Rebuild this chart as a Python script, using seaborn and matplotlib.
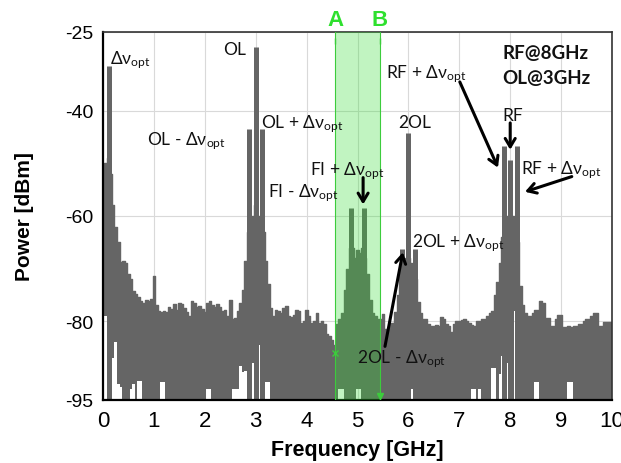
import matplotlib
matplotlib.use("Agg")
import matplotlib.pyplot as plt
import seaborn as sns
import numpy as np
import pandas as pd

# spectrum envelope, sampled every 0.05 GHz from 0 to 10 GHz
freq_step = 0.05
upper_dbm = [
    -58, -50, -49, -52, -58, -62, -65, -68.8, -68.5, -69,
    -71, -72, -74.3, -74.8, -75.5, -76.2, -76.5, -76, -76.2, -75.8,
    -71.5, -77, -78, -78.3, -78, -78.3, -77.4, -77.6, -76.8, -77.8,
    -76.5, -76.8, -77.5, -78.3, -79, -76.2, -76.5, -77.4, -77.2, -77.6,
    -78.2, -76.5, -76.2, -77, -77.4, -76.8, -77.4, -78, -77.8, -79,
    -76, -79.5, -79.4, -78, -76.5, -74, -68.5, -63, -60.5, -60,
    -58, -60, -60.5, -63, -68.5, -73, -77.5, -79, -77.8, -78,
    -78.5, -77.5, -77.2, -79, -79.3, -78.8, -77.8, -78, -80.3, -80,
    -77.8, -79, -80.3, -80, -78.5, -80.3, -80, -80.5, -82.5, -82.9,
    -83.5, -84.5, -80.5, -79.5, -78.5, -74, -70, -66, -66, -68,
    -66.5, -67, -66, -68, -71, -76, -78.5, -79, -79.5, -79.5,
    -78.7, -81.5, -81.5, -80.3, -80.3, -78.3, -75, -70, -69, -68,
    -68, -69, -70, -72, -76.4, -78.5, -79.6, -79.6, -80.5, -81,
    -81, -80.8, -81, -79.2, -79.5, -80.6, -81, -82, -80.6, -80,
    -80, -79.8, -79.6, -80, -80.3, -80.8, -81, -80, -80, -79.6,
    -79.6, -79, -78.5, -78, -75, -72.6, -69, -64, -60, -60,
    -60, -60, -61, -65, -73.4, -77, -78.5, -79.1, -79.1, -78.5,
    -77.8, -77.8, -76.2, -76.5, -79.4, -79.4, -80.9, -80.9, -79.5, -78.8,
    -78.8, -81.2, -81.2, -81, -81.2, -80.9, -80.9, -80.5, -80.5, -80,
    -79.6, -79.6, -79, -78.4, -78.4, -80.9, -80.9, -80.2, -80.2, -80.2,
    -80.2,
]
lower_dbm = [
    -79, -79, -86, -87, -87, -84, -92, -92.5, -95, -95,
    -95, -93, -92, -95, -91.4, -91.4, -95, -95, -95, -95,
    -95, -95, -95, -91.5, -91.5, -95, -95, -95, -95, -95,
    -95, -95, -95, -95, -95, -95, -95, -95, -95, -95,
    -95, -93, -93, -95, -95, -95, -95, -95, -95, -95,
    -95, -93, -93, -93, -88.6, -89.7, -89.5, -89.5, -88, -88,
    -85, -84.5, -83, -88, -91.6, -91.6, -95, -95, -95, -95,
    -95, -95, -95, -95, -95, -95, -95, -95, -95, -95,
    -95, -95, -95, -95, -95, -95, -95, -95, -95, -95,
    -95, -95, -95, -93, -93, -95, -95, -95, -95, -95,
    -93, -93, -95, -95, -95, -95, -95, -95, -95, -95,
    -95, -95, -95, -95, -95, -95, -95, -95, -95, -95,
    -95, -93, -93, -91.4, -95, -95, -95, -95, -95, -95,
    -95, -95, -95, -95, -95, -95, -95, -95, -95, -95,
    -95, -95, -95, -95, -95, -93, -93, -95, -93, -95,
    -95, -95, -95, -89, -89, -95, -90, -86.7, -86.7, -88,
    -92, -95, -78, -92, -95, -95, -95, -95, -95, -95,
    -91.5, -91.5, -95, -95, -95, -95, -95, -95, -95, -95,
    -95, -95, -95, -91.5, -91.5, -95, -95, -95, -95, -95,
    -95, -95, -95, -95, -95, -95, -95, -95, -95, -95,
    -95,
]

# narrow spectral lines
peak_freq = [0.11, 2.87, 3.00, 3.12, 4.88, 5.12, 5.88, 6.00, 6.12, 7.88, 8.00, 8.13]
peak_dbm = [-31.5, -43.4, -27.8, -43.4, -58.5, -58.5, -66.3, -44.2, -66.3, -46.6, -49.3, -46.6]

band_edges = [4.56, 5.44]
band_names = ["A", "B"]
xticks = list(range(11))
yticks = [-95, -80, -60, -40, -25]

DV = "Δν$_{\\mathrm{opt}}$"
labels = [
    (DV, 0.14, -30.9),
    ("OL", 2.36, -29.2),
    ("OL - " + DV, 0.86, -46.4),
    ("OL + " + DV, 3.10, -43.2),
    ("FI + " + DV, 4.07, -52.1),
    ("FI - " + DV, 3.24, -56.3),
    ("2OL", 5.80, -43.0),
    ("2OL + " + DV, 6.07, -65.8),
    ("2OL - " + DV, 4.99, -87.8),
    ("RF + " + DV, 5.56, -33.7),
    ("RF", 7.84, -41.7),
    ("RF + " + DV, 8.21, -51.8),
]
arrows = [
    ((5.11, -52.7), (5.11, -57.8)),
    ((7.01, -34.5), (7.76, -50.8)),
    ((8.00, -42.3), (8.00, -47.4)),
    ((9.21, -52.5), (8.29, -55.4)),
    ((5.54, -84.8), (5.89, -66.9)),
]

freq = np.round(np.arange(len(upper_dbm)) * freq_step, 2)
df = pd.DataFrame({"freq": freq, "upper": upper_dbm, "lower": lower_dbm})

sns.set_theme(style="whitegrid")
plt.rcParams["font.family"] = ["Liberation Sans", "DejaVu Sans"]
plt.rcParams["axes.unicode_minus"] = False
plt.rcParams["mathtext.fontset"] = "custom"
plt.rcParams["mathtext.rm"] = "Lato"
plt.rcParams["mathtext.it"] = "Lato:italic"
plt.rcParams["mathtext.bf"] = "Lato:bold"

gray = "#656565"
green = "#33dd33"

fig = plt.figure(figsize=(6.21, 4.64), dpi=100)
ax = fig.add_axes([0.1659, 0.1358, 0.8196, 0.7931])
ax.set_facecolor("white")

ax.fill_between(df["freq"], df["lower"], df["upper"], step="mid", color=gray, lw=0, zorder=2)
sns.lineplot(data=df, x="freq", y="upper", drawstyle="steps-mid", color=gray, lw=1, ax=ax, zorder=2)
ax.vlines(peak_freq, -95, peak_dbm, color=gray, lw=3.6, zorder=2)

# measurement band A-B
ax.axvspan(band_edges[0], band_edges[1], color=green, alpha=0.3, lw=0, zorder=3)
for x, name in zip(band_edges, band_names):
    ax.axvline(x, color="#3ccc3c", lw=0.8, zorder=3)
    ax.annotate(name, xy=(x, 1.019), xycoords=("data", "axes fraction"),
                ha="center", va="baseline", color="#2ee02e", fontsize=16,
                fontweight="bold", annotation_clip=False)
ax.plot(band_edges, [-26.8, -26.8], ls="", marker="|", ms=4, color="#3ccc3c", zorder=3)
ax.plot([band_edges[0]], [-86], ls="", marker="x", ms=4, color="#3ccc3c", zorder=3)
ax.plot([band_edges[1]], [-94.3], ls="", marker="v", ms=4, color="#3ccc3c", zorder=3)

for text, x, y in labels:
    ax.text(x, y, text, fontsize=12.5, family="Lato", color="#111111", zorder=5)
ax.text(7.84, -29.9, "RF@8GHz", fontsize=13.5, family="Lato", fontweight="bold", color="#111111")
ax.text(7.84, -34.7, "OL@3GHz", fontsize=13.5, family="Lato", fontweight="bold", color="#111111")

for tail, head in arrows:
    ax.annotate("", xy=head, xytext=tail,
                arrowprops=dict(arrowstyle="->,head_length=0.5,head_width=0.3",
                                lw=2.2, color="black", shrinkA=0, shrinkB=0), zorder=6)

ax.set_xlim(0, 10)
ax.set_ylim(-95, -25)
ax.set_xticks(xticks)
ax.set_yticks(yticks)
ax.tick_params(axis="both", length=0, pad=7, colors="black")
ax.tick_params(axis="x", labelsize=16)
ax.tick_params(axis="y", labelsize=14)
ax.grid(True, color="#d9d9d9", lw=0.8)
ax.set_axisbelow(True)

for side in ["top", "right"]:
    ax.spines[side].set_color("#333333")
    ax.spines[side].set_linewidth(1.2)
for side in ["left", "bottom"]:
    ax.spines[side].set_color("black")
    ax.spines[side].set_linewidth(1.6)

ax.set_xlabel("Frequency [GHz]", fontsize=15.5, fontweight="bold", labelpad=6, color="black")
ax.set_ylabel("Power [dBm]", fontsize=15, fontweight="bold", labelpad=22, color="black")

fig.savefig("out.png", dpi=100)
